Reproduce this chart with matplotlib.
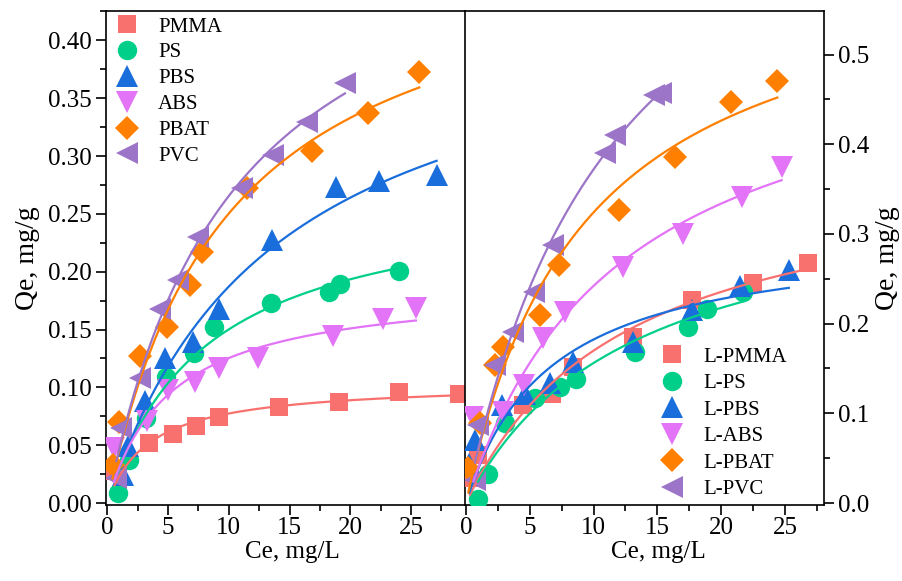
import numpy as np
import matplotlib
matplotlib.use("Agg")
import matplotlib.pyplot as plt
from matplotlib.ticker import MultipleLocator, FormatStrFormatter

plt.rcParams['font.family'] = ['Liberation Serif', 'DejaVu Serif']
plt.rcParams['mathtext.fontset'] = 'stix'

# ---- virgin microplastics (left panel) ----
pmma_ce = [0.6, 3.4, 5.38, 7.27, 9.19, 14.13, 19.1, 23.98, 28.95]
pmma_qe = [0.028, 0.0515, 0.0594, 0.0666, 0.0746, 0.0833, 0.0876, 0.0957, 0.0942]
ps_ce = [0.85, 1.77, 3.18, 4.83, 7.16, 8.78, 13.47, 18.27, 19.15, 23.98]
ps_qe = [0.009, 0.037, 0.0738, 0.109, 0.130, 0.152, 0.1727, 0.1827, 0.189, 0.2009]
pbs_ce = [1.3, 1.73, 3.1, 4.75, 7.08, 9.19, 13.6, 18.8, 22.4, 27.1]
pbs_qe = [0.024, 0.049, 0.088, 0.125, 0.139, 0.168, 0.227, 0.2735, 0.278, 0.2836]
abs_ce = [0.55, 3.24, 5.02, 7.22, 9.19, 12.43, 18.6, 22.67, 25.4]
abs_qe = [0.048, 0.071, 0.098, 0.105, 0.1165, 0.125, 0.144, 0.159, 0.169]
pbat_ce = [0.44, 1.0, 2.69, 4.89, 6.8, 7.8, 11.47, 16.87, 21.48, 25.68]
pbat_qe = [0.033, 0.0703, 0.127, 0.152, 0.1885, 0.217, 0.272, 0.304, 0.3375, 0.373]
pvc_ce = [0.75, 1.15, 2.69, 4.34, 5.85, 7.49, 11.06, 13.66, 16.41, 19.56]
pvc_qe = [0.022, 0.065, 0.108, 0.168, 0.193, 0.230, 0.272, 0.301, 0.3297, 0.363]

# ---- aged microplastics (right panel) ----
lpmma_ce = [0.31, 0.97, 4.49, 6.71, 8.41, 13.06, 17.69, 22.5, 26.8]
lpmma_qe = [0.0275, 0.0535, 0.109, 0.122, 0.152, 0.1854, 0.226, 0.245, 0.268]
lps_ce = [0.93, 1.75, 3.06, 5.41, 7.37, 8.62, 13.24, 17.42, 18.86, 21.73]
lps_qe = [0.004, 0.032, 0.0895, 0.1167, 0.1297, 0.138, 0.1687, 0.1966, 0.216, 0.2356]
lpbs_ce = [0.26, 0.7, 2.8, 4.62, 6.58, 8.41, 13.1, 17.69, 21.5, 25.3]
lpbs_qe = [0.044, 0.070, 0.109, 0.122, 0.1334, 0.1575, 0.18, 0.215, 0.242, 0.26]
labs_ce = [0.57, 2.92, 4.55, 6.06, 7.76, 12.33, 17.0, 21.6, 24.74]
labs_qe = [0.096, 0.101, 0.132, 0.1836, 0.213, 0.263, 0.30, 0.3415, 0.375]
lpbat_ce = [0.18, 1.1, 2.27, 2.92, 5.8, 7.3, 12.0, 16.4, 20.74, 24.4]
lpbat_qe = [0.039, 0.089, 0.154, 0.174, 0.21, 0.265, 0.3266, 0.386, 0.447, 0.470]
lpvc_ce = [0.7, 0.97, 2.27, 3.71, 5.35, 6.84, 10.9, 11.7, 14.7, 15.3]
lpvc_qe = [0.026, 0.087, 0.154, 0.191, 0.235, 0.288, 0.39, 0.41, 0.455, 0.457]

names = ['PMMA', 'PS', 'PBS', 'ABS', 'PBAT', 'PVC']
colors = ['#F8716F', '#00CF8A', '#1A6EDC', '#E373F7', '#FF8000', '#9C74C8']
markers = ['s', 'o', '^', 'v', 'D', '<']
msizes = [13, 14, 16, 16, 12, 16]

left_sets = [(pmma_ce, pmma_qe), (ps_ce, ps_qe), (pbs_ce, pbs_qe),
             (abs_ce, abs_qe), (pbat_ce, pbat_qe), (pvc_ce, pvc_qe)]
right_sets = [(lpmma_ce, lpmma_qe), (lps_ce, lps_qe), (lpbs_ce, lpbs_qe),
              (labs_ce, labs_qe), (lpbat_ce, lpbat_qe), (lpvc_ce, lpvc_qe)]


def langmuir_fit(ce, qe):
    """Least-squares Langmuir fit: qe = qm*K*ce/(1+K*ce)."""
    ce = np.asarray(ce, float)
    qe = np.asarray(qe, float)
    ks = np.logspace(-4, 2, 4000)
    f = ks[:, None] * ce[None, :] / (1 + ks[:, None] * ce[None, :])
    qm = (f @ qe) / np.einsum('ij,ij->i', f, f)
    err = ((qe[None, :] - qm[:, None] * f) ** 2).sum(axis=1)
    i = np.argmin(err)
    return qm[i], ks[i]


fig = plt.figure(figsize=(9.03, 5.81), dpi=100)
W, H = 903.0, 581.0
bottom = 1 - 505 / H
height = 494 / H
ax1 = fig.add_axes([106 / W, bottom, 359 / W, height])
ax2 = fig.add_axes([465 / W, bottom, 359 / W, height])

lw_spine = 1.2
for ax, sets, prefix in ((ax1, left_sets, ''), (ax2, right_sets, 'L-')):
    for (ce, qe), name, col, mk, ms in zip(sets, names, colors, markers, msizes):
        ax.plot(ce, qe, linestyle='none', marker=mk, markersize=ms,
                color=col, markeredgewidth=0, label=prefix + name, zorder=3)
    for (ce, qe), col in zip(sets, colors):
        qm, k = langmuir_fit(ce, qe)
        cc = np.linspace(min(ce), max(ce), 200)
        ax.plot(cc, qm * k * cc / (1 + k * cc), color=col, lw=1.6, zorder=4)
    for sp in ax.spines.values():
        sp.set_linewidth(lw_spine)
    ax.xaxis.set_major_locator(MultipleLocator(5))
    ax.xaxis.set_minor_locator(MultipleLocator(2.5))
    ax.tick_params(axis='both', which='major', direction='out', length=7,
                   width=lw_spine, labelsize=18, pad=3)
    ax.tick_params(axis='x', which='major', pad=2)
    ax.tick_params(axis='both', which='minor', direction='out', length=4,
                   width=lw_spine)
    ax.set_xlabel('Ce, mg/L', fontsize=18)

ax1.set_xlim(-0.1, 29.44)
ax1.set_ylim(-0.0017, 0.4254)
ax1.yaxis.set_major_locator(MultipleLocator(0.05))
ax1.yaxis.set_minor_locator(MultipleLocator(0.025))
ax1.yaxis.set_major_formatter(FormatStrFormatter('%.2f'))
ax1.spines['right'].set_visible(False)
ax1.set_ylabel('Qe, mg/g', fontsize=20, labelpad=6)
ax1.xaxis.set_label_coords(0.518, -0.073)

ax2.set_xlim(-0.08, 28.06)
ax2.set_ylim(-0.0022, 0.5485)
ax2.yaxis.tick_right()
ax2.yaxis.set_label_position('right')
ax2.yaxis.set_major_locator(MultipleLocator(0.1))
ax2.yaxis.set_minor_locator(MultipleLocator(0.05))
ax2.yaxis.set_major_formatter(FormatStrFormatter('%.1f'))
ax2.set_ylabel('Qe, mg/g', fontsize=20, labelpad=4)
ax2.xaxis.set_label_coords(0.54, -0.073)

ax1.legend(loc='upper left', bbox_to_anchor=(0.024, 0.988), frameon=False,
           fontsize=15, handlelength=1.2, handletextpad=0.89,
           labelspacing=0.3, borderpad=0, borderaxespad=0)
ax2.legend(loc='lower left', bbox_to_anchor=(0.542, 0.012), frameon=False,
           fontsize=15, handlelength=1.2, handletextpad=0.89,
           labelspacing=0.33, borderpad=0, borderaxespad=0)

fig.savefig('out.png', dpi=100)
